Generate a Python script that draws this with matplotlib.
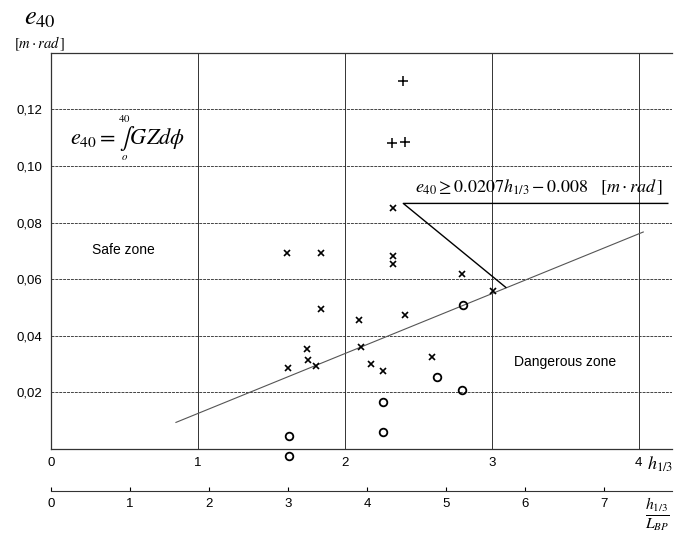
import numpy as np
import matplotlib.pyplot as plt

plt.rcParams['mathtext.fontset'] = 'stix'
plt.rcParams['font.family'] = 'Liberation Sans'

# points (h1/3 , e40)
plus_x = [2.397, 2.318, 2.406]
plus_y = [0.1299, 0.1083, 0.1086]

cross_x = [1.603, 1.835, 2.329, 2.329, 2.327, 2.798, 3.009, 1.837, 2.097, 2.410,
           1.744, 2.107, 1.748, 1.610, 1.805, 2.177, 2.259, 2.592]
cross_y = [0.0692, 0.0692, 0.0682, 0.0655, 0.0851, 0.0617, 0.0558, 0.0496, 0.0455, 0.0472,
           0.0353, 0.0361, 0.0313, 0.0287, 0.0294, 0.0302, 0.0275, 0.0326]

circle_x = [2.805, 2.628, 2.798, 2.256, 2.256, 1.617, 1.617]
circle_y = [0.0508, 0.0255, 0.0210, 0.0167, 0.0061, 0.0047, -0.0025]

# criterion line and its leader
line_x = [0.85, 4.03]
line_y = [0.0094, 0.0767]
leader_x = [4.197, 2.397, 3.095]
leader_y = [0.0868, 0.0868, 0.0571]

x_ticks = [0, 1, 2, 3, 4]
y_ticks = [0.02, 0.04, 0.06, 0.08, 0.10, 0.12]
y_labels = ['0,02', '0,04', '0,06', '0,08', '0,10', '0,12']
ratio = 1.861   # h1/3 / L_BP scale vs h1/3 scale
x2_ticks = [0, 1, 2, 3, 4, 5, 6, 7]

fig = plt.figure(figsize=(6.74, 5.36), dpi=100)
ax = fig.add_axes([0.0757, 0.1623, 0.921, 0.739])
ax.set_xlim(0, 4.224)
ax.set_ylim(0, 0.14)

for v in y_ticks:
    ax.axhline(v, color='#444444', lw=0.7, ls=(0, (3, 1)), zorder=1)
for v in x_ticks[1:]:
    ax.axvline(v, color='#333333', lw=0.7, zorder=1)

ax.spines['right'].set_visible(False)
for s in ['left', 'top', 'bottom']:
    ax.spines[s].set_linewidth(0.9)
    ax.spines[s].set_color('#333333')

ax.set_xticks(x_ticks)
ax.set_yticks(y_ticks)
ax.set_yticklabels(y_labels)
ax.tick_params(length=0, labelsize=9.5, pad=6)

ax.plot(line_x, line_y, color='#555555', lw=0.8, zorder=2)
ax.plot(leader_x, leader_y, color='black', lw=1.0, zorder=2)

ax.plot(plus_x, plus_y, '+', color='black', ms=7, mew=1.1, ls='none', zorder=3)
ax.plot(cross_x, cross_y, 'x', color='black', ms=4.5, mew=1.2, ls='none', zorder=3)
ax.plot(circle_x, circle_y, 'o', mfc='none', mec='black', ms=5.5, mew=1.3, ls='none',
        zorder=3, clip_on=False)

ax.text(0.49, 0.0702, 'Safe zone', fontsize=10, ha='center', va='center')
ax.text(3.5, 0.0307, 'Dangerous zone', fontsize=10, ha='center', va='center')

# e40 = integral from o to 40 of GZ dphi, limits above and below the sign
ax.text(0.52, 0.110, r'$e_{40}=\overset{{}_{40}}{\underset{{}_{o}}{\int}}GZd\phi$',
        fontsize=16, ha='center', va='center')

ax.text(2.476, 0.0924, r'$e_{40}\geq0.0207h_{1/3}-0.008\quad[m\cdot rad\,]$',
        fontsize=13, ha='left', va='center')

# axis titles
fig.text(40 / 674, 1 - 18 / 536, r'$e_{40}$', fontsize=19, ha='center', va='center')
fig.text(40 / 674, 1 - 44 / 536, r'$[m\cdot rad\,]$', fontsize=10.5, ha='center', va='center')
fig.text(660 / 674, 1 - 464 / 536, r'$h_{1/3}$', fontsize=13, ha='center', va='center')
fig.text(657 / 674, 1 - 515 / 536, r'$\frac{h_{1/3}}{L_{BP}}$', fontsize=16, ha='center', va='center')

# second scale below the main axis
sec = ax.secondary_xaxis(-0.106, functions=(lambda x: x * ratio, lambda v: v / ratio))
sec.set_xticks(x2_ticks)
sec.tick_params(direction='in', length=3, width=0.8, labelsize=9.5, pad=5)
sec.spines['bottom'].set_linewidth(0.8)
sec.spines['bottom'].set_color('#333333')

fig.savefig('out.png', dpi=100)
